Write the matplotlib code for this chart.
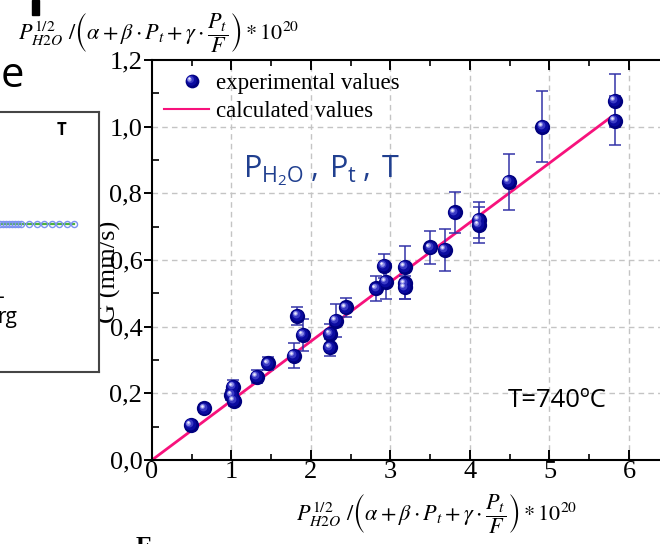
import matplotlib
matplotlib.use("Agg")
import matplotlib.pyplot as plt
from matplotlib.lines import Line2D
from matplotlib.patches import Rectangle
from matplotlib.legend_handler import HandlerBase, HandlerLine2D
from matplotlib.transforms import ScaledTranslation
from matplotlib.ticker import MultipleLocator, FixedLocator, FixedFormatter

plt.rcParams['mathtext.fontset'] = 'custom'
plt.rcParams['mathtext.rm'] = 'Open Sans'
plt.rcParams['mathtext.it'] = 'Open Sans:italic'
plt.rcParams['mathtext.bf'] = 'Open Sans:bold'

SERIF = 'Liberation Serif'
SANS = 'Open Sans'

# ---- growth-rate data -------------------------------------------------
x_exp = [0.49, 0.66, 1.02, 1.00, 1.03, 1.32, 1.46, 1.78, 1.83, 1.90,
         2.24, 2.24, 2.31, 2.44, 2.82, 2.92, 2.94, 3.18, 3.18, 3.18,
         3.50, 3.68, 3.81, 4.11, 4.11, 4.49, 4.91, 5.82, 5.82]
y_exp = [0.105, 0.155, 0.220, 0.195, 0.178, 0.250, 0.290, 0.313, 0.433, 0.375,
         0.378, 0.338, 0.418, 0.458, 0.515, 0.582, 0.535, 0.580, 0.530, 0.518,
         0.638, 0.630, 0.743, 0.720, 0.705, 0.835, 1.000, 1.078, 1.018]
y_err = [0.010, 0.010, 0.020, 0.015, 0.015, 0.020, 0.020, 0.037, 0.027, 0.047,
         0.030, 0.025, 0.050, 0.028, 0.037, 0.035, 0.052, 0.062, 0.047, 0.035,
         0.050, 0.062, 0.061, 0.055, 0.053, 0.084, 0.107, 0.080, 0.073]

x_calc = [0.0, 5.78]
y_calc = [0.0, 1.03]

x_ticks = [0, 1, 2, 3, 4, 5, 6]
x_tick_labels = ['0', '1', '2', '3', '4', '5', '6']
y_ticks = [0.0, 0.2, 0.4, 0.6, 0.8, 1.0, 1.2]
y_tick_labels = ['0,0', '0,2', '0,4', '0,6', '0,8', '1,0', '1,2']

# partial neighbouring chart (left)
side_x = [0.571, 0.584, 0.597, 0.610, 0.623, 0.636, 0.649, 0.662,
          0.697, 0.732, 0.762, 0.797, 0.827, 0.861, 0.892]
side_y = [0.57] * len(side_x)

NAVY_LAYERS = [  # (size, colour, dx, dy) for a shaded sphere marker
    (11.0, '#00007E', 0.0, 0.0),
    (8.4, '#0B0BA0', -0.5, 0.5),
    (5.6, '#3A3AC4', -1.2, 1.2),
    (3.4, '#9090E8', -1.8, 1.8),
    (1.8, '#ECECFC', -2.0, 2.0),
]

fig = plt.figure(figsize=(6.6, 5.44), dpi=100)
W, H = 660.0, 544.0

ax = fig.add_axes([152 / W, 1 - 460 / H, (660 - 152) / W, 400 / H])
ax.set_xlim(0, 6.39)
ax.set_ylim(0, 1.2)

# grid
for xv in x_ticks[1:]:
    ax.axvline(xv, color='#C4C4C4', lw=1.0, ls=(0, (4, 3)), zorder=0)
for yv in y_ticks[1:-1]:
    ax.axhline(yv, color='#C4C4C4', lw=1.0, ls=(0, (4, 3)), zorder=0)

ax.plot(x_calc, y_calc, color='#F7127C', lw=2.0, zorder=2)

ax.errorbar(x_exp, y_exp, yerr=y_err, fmt='none', ecolor='#3030A6',
            elinewidth=1.2, capsize=4.5, capthick=1.2, zorder=3, alpha=0.9)
for size, col, dx, dy in NAVY_LAYERS:
    tr = ax.transData + ScaledTranslation(dx / 72, dy / 72, fig.dpi_scale_trans)
    ax.plot(x_exp, y_exp, ls='none', marker='o', ms=size, color=col,
            mec='none', transform=tr, zorder=4)

# axes styling
for side in ['left', 'bottom', 'top']:
    ax.spines[side].set_linewidth(1.5)
ax.spines['right'].set_visible(False)

ax.xaxis.set_major_locator(FixedLocator(x_ticks))
ax.xaxis.set_major_formatter(FixedFormatter(x_tick_labels))
ax.xaxis.set_minor_locator(MultipleLocator(0.5))
ax.yaxis.set_major_locator(FixedLocator(y_ticks))
ax.yaxis.set_major_formatter(FixedFormatter(y_tick_labels))
ax.yaxis.set_minor_locator(MultipleLocator(0.1))

ax.tick_params(axis='y', which='major', direction='out', length=6, width=1.4,
               right=False, labelsize=19, pad=1)
ax.tick_params(axis='y', which='minor', direction='in', length=5, width=1.2,
               right=False)
ax.tick_params(axis='x', which='major', direction='in', length=7, width=1.4,
               top=True, labelsize=19, pad=1)
ax.tick_params(axis='x', which='minor', direction='in', length=4, width=1.2,
               top=True)
for lab in ax.get_xticklabels() + ax.get_yticklabels():
    lab.set_family(SERIF)

ax.set_ylabel('G (mm/s)', family=SERIF, fontsize=19)
ax.yaxis.set_label_coords(-0.062, 0.47)


class SphereHandler(HandlerBase):
    def create_artists(self, legend, orig_handle, xdescent, ydescent,
                       width, height, fontsize, trans):
        cx = width / 2 - xdescent + 4
        cy = height / 2 - ydescent
        arts = []
        for size, col, dx, dy in NAVY_LAYERS:
            arts.append(Line2D([cx + dx], [cy + dy], ls='none', marker='o',
                               ms=size * 0.9, color=col, mec='none',
                               transform=trans))
        return arts


h_exp = Line2D([], [], ls='none', marker='o', color='#00007E')
h_calc = Line2D([], [], color='#F7127C', lw=1.5)
ax.legend([h_exp, h_calc], ['experimental values', 'calculated values'],
          handler_map={h_exp: SphereHandler(), h_calc: HandlerLine2D()},
          loc='upper left', bbox_to_anchor=(164 / W, 1 - 73 / H),
          bbox_transform=fig.transFigure, frameon=False,
          prop={'family': SERIF, 'size': 16.5}, borderpad=0, borderaxespad=0,
          handlelength=1.95, handletextpad=0.3, labelspacing=0.32)

ax.text(243 / W, 1 - 177 / H, r'$\mathrm{P_{H_2O}\:,\:P_t\:,\:T}$',
        transform=fig.transFigure, color='#203F8F', fontsize=22,
        ha='left', va='baseline')
ax.text(508 / W, 1 - 407 / H, 'T=740ºC', transform=fig.transFigure,
        family=SANS, fontsize=18.5, ha='left', va='baseline', color='black')

formula = (r'$P_{H2O}^{1/2}\ /\left(\alpha+\beta\cdot P_t+\gamma\cdot'
           r'\dfrac{P_t}{F}\right)*10^{20}$')
fig.text(437 / W, 1 - 514 / H, formula, math_fontfamily='stix',
         fontsize=16, ha='center', va='center')
fig.text(18 / W, 1 - 33 / H, formula, math_fontfamily='stix',
         fontsize=16, ha='left', va='center')

# neighbouring content on the slide
ax_side = fig.add_axes([-132 / W, 1 - 372 / H, 231 / W, 260 / H])
ax_side.set_zorder(5)
ax_side.set_facecolor('white')
ax_side.set_xlim(0, 1)
ax_side.set_ylim(0, 1)
ax_side.set_xticks([])
ax_side.set_yticks([])
for sp in ax_side.spines.values():
    sp.set_color('#454545')
    sp.set_linewidth(1.5)
ax_side.plot(side_x, side_y, color='#4DB33A', lw=1.6, zorder=2)
ax_side.plot(side_x, side_y, ls='none', marker='o', ms=4.4, mfc='none',
             mec='#7C93F0', mew=1.0, zorder=3)
fig.text(62 / W, 1 - 130 / H, 'T', family=SANS, fontweight='bold',
         fontsize=12, ha='center', va='center', zorder=6)
fig.text(17 / W, 1 - 323 / H, 'rg', family=SANS, fontsize=15,
         ha='right', va='baseline', zorder=6)
fig.text(4 / W, 1 - 303 / H, '-', family=SANS, fontsize=15,
         ha='right', va='baseline', zorder=6)
fig.text(24 / W, 1 - 87 / H, 'e', family=SANS, fontsize=30,
         ha='right', va='baseline')
fig.text(144 / W, 1 - 536 / H, 'E', family=SERIF, fontweight='bold',
         fontsize=18, ha='center', va='top')
fig.add_artist(Rectangle((32 / W, 1 - 15 / H), 7 / W, 15 / H,
                         transform=fig.transFigure, color='black'))

fig.savefig('out.png', dpi=100)
